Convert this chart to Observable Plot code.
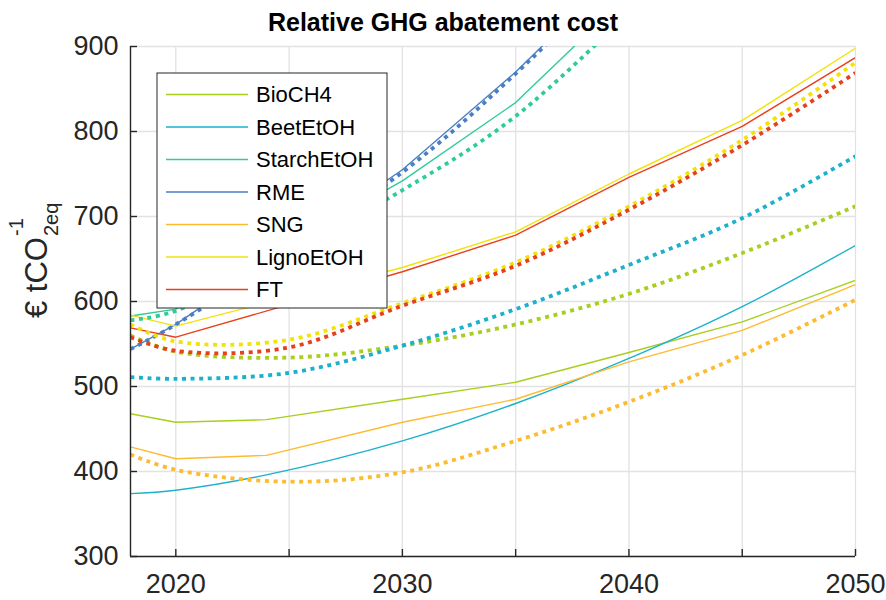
<!DOCTYPE html>
<html><head><meta charset="utf-8">
<script src="https://cdn.jsdelivr.net/npm/d3@7"></script>
<script src="https://cdn.jsdelivr.net/npm/@observablehq/plot@0.6"></script>
<style>body{margin:0;background:#fff}#chart{width:886px;height:600px}</style>
</head><body><div id="chart"></div>
<script>
// ---- data ----
const seriesNames = ["BioCH4","BeetEtOH","StarchEtOH","RME","SNG","LignoEtOH","FT"];
const seriesColors = ["#a8cf1e","#1ab2cb","#2ecc9a","#4a7fc4","#fdbb2f","#f2e20c","#e8401c"];
const solidYears  = [2018, 2020, 2024, 2030, 2035, 2040, 2045, 2050];
const dottedYears = [2018, 2020, 2025, 2030, 2035, 2040, 2045, 2050];
// solid lines
const solidBioCH4     = [468, 458, 461, 485, 505, 540, 576, 625];
const solidBeetEtOH   = [374, 378, 396, 436, 480, 533, 594, 666];
const solidStarchEtOH = [583, 591, null, 742, 834, 962, null, null];
const solidRME        = [544, 573, null, 755, 870, 1000, null, null];
const solidSNG        = [429, 415, 419, 458, 485, 529, 566, 620];
const solidLignoEtOH  = [584, 571, null, 640, 682, 750, 813, 898];
const solidFT         = [569, 558, null, 635, 678, 746, 806, 887];
// dotted lines
const dottedBioCH4     = [560, 541, 534, 548, 573, 609, 657, 712];
const dottedBeetEtOH   = [511, 509, 516, 548, 591, 643, 698, 771];
const dottedStarchEtOH = [578, 589, null, 731, 818, 940, null, null];
const dottedRME        = [544, 573, null, 752, 868, 1000, null, null];
const dottedSNG        = [420, 402, 388, 399, 436, 482, 537, 602];
const dottedLignoEtOH  = [573, 553, 555, 598, 646, 712, 790, 881];
const dottedFT         = [558, 542, 546, 595, 642, 708, 784, 869];
const xTicks = [2020, 2025, 2030, 2035, 2040, 2045, 2050];
const yTicks = [300, 400, 500, 600, 700, 800, 900];
const titleText = "Relative GHG abatement cost";

const solidSets  = [solidBioCH4, solidBeetEtOH, solidStarchEtOH, solidRME, solidSNG, solidLignoEtOH, solidFT];
const dottedSets = [dottedBioCH4, dottedBeetEtOH, dottedStarchEtOH, dottedRME, dottedSNG, dottedLignoEtOH, dottedFT];

function rows(years, vals, name) {
  const out = [];
  years.forEach((y, j) => { if (vals[j] != null) out.push({name, year: y, value: vals[j]}); });
  return out;
}

const ink = "#262626";
const font = "'Liberation Sans', Arial, sans-serif";
const lineMarks = [];
seriesNames.forEach((n, i) => {
  lineMarks.push(Plot.line(rows(solidYears, solidSets[i], n), {
    x: "year", y: "value", stroke: "name", strokeWidth: 1.4,
    curve: n === "BeetEtOH" ? "catmull-rom" : "linear", clip: true
  }));
});
seriesNames.forEach((n, i) => {
  lineMarks.push(Plot.line(rows(dottedYears, dottedSets[i], n), {
    x: "year", y: "value", stroke: "name", strokeWidth: 3.8,
    strokeDasharray: "4,4.6", strokeLinecap: "butt", curve: "catmull-rom", clip: true
  }));
});

const plot = Plot.plot({
  width: 886, height: 600,
  marginTop: 46, marginBottom: 44, marginLeft: 130, marginRight: 31,
  style: {fontFamily: font, fontSize: "27px", color: ink, background: "white", overflow: "visible"},
  x: {domain: [2018, 2050]},
  y: {domain: [300, 900]},
  color: {domain: seriesNames, range: seriesColors},
  marks: [
    Plot.gridX(xTicks, {stroke: "#e2e2e2", strokeOpacity: 1, strokeWidth: 1.3}),
    Plot.gridY(yTicks, {stroke: "#e2e2e2", strokeOpacity: 1, strokeWidth: 1.3}),
    ...lineMarks,
    Plot.axisX(xTicks, {tickSize: 0, tickPadding: 17, label: null, fill: ink,
      tickFormat: d => d % 10 === 0 ? String(d) : ""}),
    Plot.axisY(yTicks, {tickSize: 0, tickPadding: 12, label: null, fill: ink, tickFormat: d => String(d)}),
    Plot.ruleY([300], {stroke: ink, strokeWidth: 1.4}),
    Plot.ruleX([2018], {stroke: ink, strokeWidth: 1.4}),
    Plot.ruleX(xTicks, {x: d => d, y1: 300, y2: 300, insetTop: -7, stroke: ink, strokeWidth: 1.4}),
    Plot.ruleY(yTicks, {y: d => d, x1: 2018, x2: 2018, insetRight: -7, stroke: ink, strokeWidth: 1.4})
  ]
});
document.getElementById("chart").appendChild(plot);

const svg = d3.select(plot);
// title
svg.append("text").attr("x", 443).attr("y", 31).attr("text-anchor", "middle")
  .attr("font-family", font).attr("font-weight", "bold").attr("font-size", 25).attr("fill", "#000")
  .text(titleText);

// y label: € tCO^{-1}_{2eq}
const yl = svg.append("g").attr("transform", "translate(46.5,318) rotate(-90)")
  .attr("font-family", font).attr("fill", ink).attr("text-anchor", "start");
const main = yl.append("text").attr("x", 0).attr("y", 0).attr("font-size", 31).text("€ tCO");
const mlen = main.node().getComputedTextLength();
yl.append("text").attr("x", mlen + 1).attr("y", -23.5).attr("font-size", 20).text("-1");
yl.append("text").attr("x", mlen + 1).attr("y", 11.5).attr("font-size", 20).text("2eq");

// legend
const lg = svg.append("g").attr("font-family", font).attr("text-anchor", "start");
lg.append("rect").attr("x", 157).attr("y", 73).attr("width", 230).attr("height", 235)
  .attr("fill", "white").attr("stroke", ink).attr("stroke-width", 1);
const colorScale = plot.scale("color");
seriesNames.forEach((n, i) => {
  const cy = 94.5 + i * 32.5;
  lg.append("line").attr("x1", 166).attr("x2", 248).attr("y1", cy).attr("y2", cy)
    .attr("stroke", colorScale.apply(n)).attr("stroke-width", 1.4);
  lg.append("text").attr("x", 256).attr("y", cy).attr("dy", "0.36em").attr("font-size", 22)
    .attr("fill", "#000").text(n);
});
</script>
</body></html>
